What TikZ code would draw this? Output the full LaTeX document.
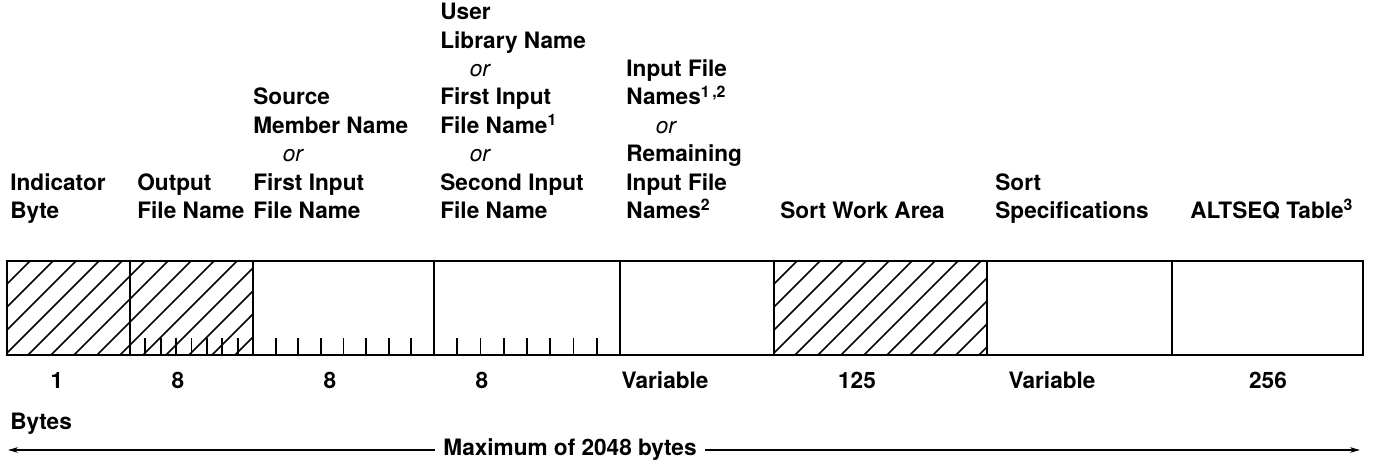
\documentclass[tikz,border=0pt]{standalone}
\usepackage{fontspec}
\setmainfont{TeX Gyre Heros}
\usetikzlibrary{arrows.meta,positioning}
\tikzset{
  frameln/.style={line width=1.4pt},
  fieldln/.style={line width=1pt},
  hatchln/.style={line width=0.8pt},
  tickln/.style={line width=0.9pt},
  hdr/.style={anchor=south west, inner sep=0pt, align=left,
    font=\bfseries\fontsize{11.3}{14.2}\selectfont},
  num/.style={anchor=base, inner sep=0pt,
    font=\bfseries\fontsize{11.3}{14.2}\selectfont},
  spanarrow/.style={-{Stealth[length=5pt,width=2.8pt]}, line width=0.8pt},
}
\newcommand{\orword}{\hspace*{1.3em}{\mdseries\itshape or}}

\begin{document}
\begin{tikzpicture}[x=0.5pt, y=-0.5pt]
        \useasboundingbox (0,0) rectangle (1383,468);
        % hatched fields (indicator + output name, sort work area)
        \foreach \xa/\xb in {7/253, 774/987} {
          \begin{scope}
            \clip (\xa,261) rectangle (\xb,355);
            \foreach \k in {0,...,16}
              \draw[hatchln] (\xa-94+\k*23,355) -- ++(94,-94);
          \end{scope}
        }
        % byte ticks in the 8-byte name fields
        \foreach \xa/\xb in {130/253, 253/434, 434/620}
          \foreach \k in {1,...,7}
            \draw[tickln] ({\xa+\k*(\xb-\xa)/8},355) -- ++(0,-17);
        \foreach \x in {130,253,434,620,774,987,1172}
          \draw[fieldln] (\x,261) -- (\x,355);
        \draw[frameln] (7,261) rectangle (1363,355);
        % column headings
        \node[hdr] (indicator) at (10,227.5) {Indicator\\Byte\strut};
        \node[hdr] (outname) at (137,227.5) {Output\\File Name\strut};
        \node[hdr] (srcmember) at (253,227.5)
          {Source\\Member Name\\\orword\\First Input\\File Name\strut};
        \node[hdr] (userlib) at (440,227.5)
          {User\\Library Name\\\orword\\First Input\\File Name\textsuperscript{1}\\%
           \orword\\Second Input\\File Name\strut};
        \node[hdr] (infiles) at (626,227.5)
          {Input File\\Names\textsuperscript{1\,,2}\\\orword\\Remaining\\%
           Input File\\Names\textsuperscript{2}\strut};
        \node[hdr] (workarea) at (780,227.5) {Sort Work Area\strut};
        \node[hdr] (sortspec) at (995,227.5) {Sort\\Specifications\strut};
        \node[hdr] (altseq) at (1190,227.5) {ALTSEQ Table\textsuperscript{3}\strut};
        % lengths
        \node[num] (len1) at (57,388) {1};
        \node[num] (len2) at (178,388) {8};
        \node[num] (len3) at (330,388) {8};
        \node[num] (len4) at (482,388) {8};
        \node[num] (len5) at (665,388) {Variable};
        \node[num] (len6) at (857,388) {125};
        \node[num] (len7) at (1052,388) {Variable};
        \node[num] (len8) at (1268,388) {256};
        \node[num, anchor=base west] (bytes) at (10,429) {Bytes};
        % overall span
        \node[num, anchor=center, inner sep=4pt] (maxlbl) at (570,450)
          {Maximum of 2048 bytes};
        \coordinate (spanL) at (8,450);
        \coordinate (spanR) at (1360,450);
        \draw[spanarrow] (maxlbl.west) -- (spanL);
        \draw[spanarrow] (maxlbl.east) -- (spanR);
      \end{tikzpicture}
\end{document}
